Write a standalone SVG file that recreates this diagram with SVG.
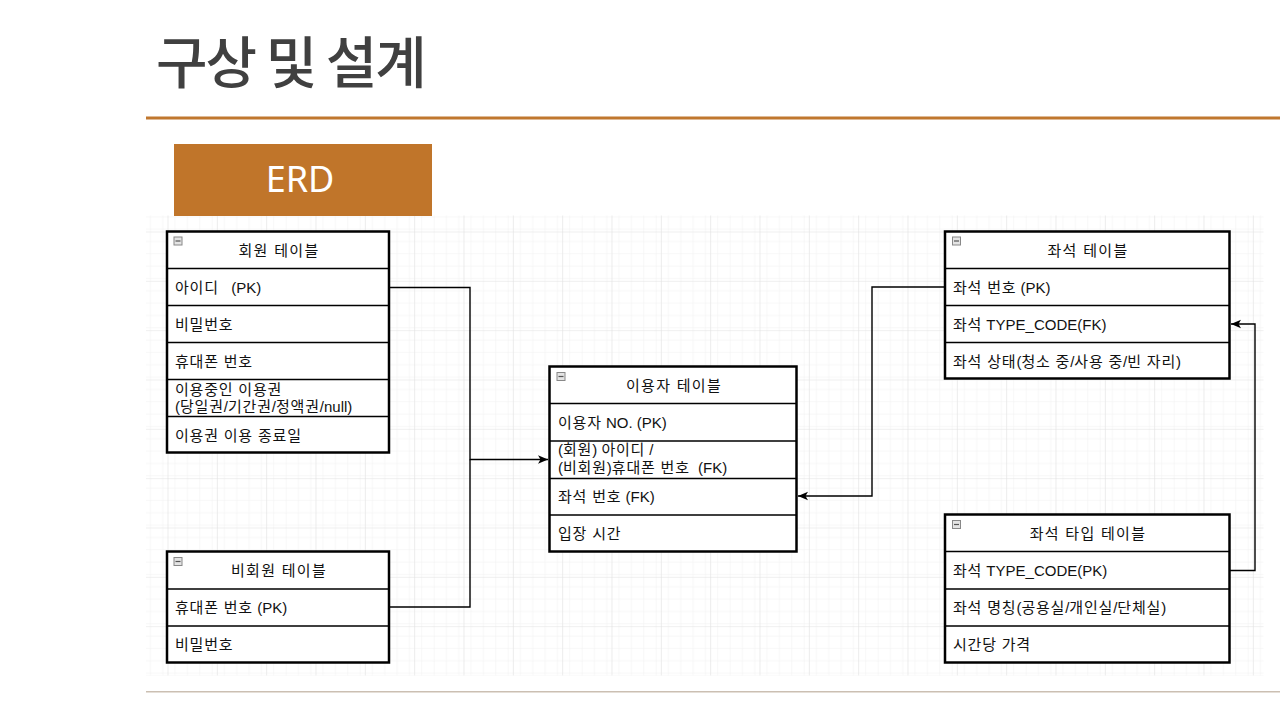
<svg xmlns="http://www.w3.org/2000/svg" width="1280" height="720" viewBox="0 0 1280 720">
<style>
.tbl{fill:#fff;stroke:#000;stroke-width:2.5}
.sep{stroke:#000;stroke-width:1.5}
.hd{font-family:"Liberation Sans","Noto Sans CJK KR",sans-serif;font-size:15px;fill:#111;text-anchor:middle;letter-spacing:1.3px}
.tx{font-family:"Liberation Sans","Noto Sans CJK KR",sans-serif;font-size:15px;fill:#111;white-space:pre}
.k{letter-spacing:0.8px}
.ic{fill:#e4e4e4;stroke:#888;stroke-width:1}
.icm{stroke:#555;stroke-width:1.2}
.cn{fill:none;stroke:#000;stroke-width:1.4}
</style>
<defs>
<pattern id="minor" x="167.5" y="231.5" width="12.333" height="12.333" patternUnits="userSpaceOnUse">
<path d="M0,0 V12.333 M0,0 H12.333" stroke="#efefef" stroke-width="1" fill="none"/>
</pattern>
<pattern id="major" x="167.5" y="231.5" width="49.333" height="49.333" patternUnits="userSpaceOnUse">
<rect width="49.333" height="49.333" fill="url(#minor)"/>
<path d="M0,0 V49.333 M0,0 H49.333" stroke="#e0e0e0" stroke-width="1.2" fill="none"/>
</pattern>
<marker id="arr" markerUnits="userSpaceOnUse" markerWidth="12" markerHeight="10" refX="10" refY="5" orient="auto">
<path d="M0,0.8 L10,5 L0,9.2 L2.5,5 z" fill="#000"/>
</marker>
</defs>
<rect width="1280" height="720" fill="#fff"/>
<text x="156" y="83" font-family="'Noto Sans CJK KR',sans-serif" font-size="56" font-weight="500" fill="#404040" letter-spacing="-2">구상 및 설계</text>
<rect x="146" y="116.5" width="1134" height="3" fill="#c0772e"/>
<rect x="146" y="215.5" width="1117.5" height="460" fill="url(#major)"/>
<rect x="174" y="144" width="258" height="72" fill="#c0752a"/>
<text x="300" y="192" font-family="'Noto Sans',sans-serif" font-size="36" fill="#fff" text-anchor="middle">ERD</text>
<rect x="146" y="691" width="1134" height="1.5" fill="#cbbfb2"/>

<g id="connectors">
<path class="cn" d="M389,287.5 H470 V459.5 H548" marker-end="url(#arr)"/>
<path class="cn" d="M389,607 H470 V459.5"/>
<path class="cn" d="M945,287 H872 V496 H798" marker-end="url(#arr)"/>
<path class="cn" d="M1230,570.5 H1255 V324 H1231" marker-end="url(#arr)"/>
</g>

<g id="member">
<rect class="tbl" x="167" y="231.5" width="222" height="221"/>
<path class="sep" d="M167,268.5 H389 M167,305.5 H389 M167,342.5 H389 M167,379.5 H389 M167,416.5 H389"/>
<rect class="ic" x="174" y="237" width="8" height="8"/><path class="icm" d="M175.5,241 H180.5"/>
<text class="hd" x="279" y="256">회원 테이블</text>
<text class="tx" x="175" y="292.5"><tspan class="k">아이디</tspan>   (PK)</text>
<text class="tx" x="175" y="329.5"><tspan class="k">비밀번호</tspan></text>
<text class="tx" x="175" y="366.5"><tspan class="k">휴대폰 번호</tspan></text>
<text class="tx" x="175" y="395"><tspan class="k">이용중인 이용권</tspan></text>
<text class="tx" x="175" y="412">(<tspan class="k">당일권</tspan>/<tspan class="k">기간권</tspan>/<tspan class="k">정액권</tspan>/null)</text>
<text class="tx" x="175" y="440.5"><tspan class="k">이용권 이용 종료일</tspan></text>
</g>

<g id="nonmember">
<rect class="tbl" x="167" y="551.5" width="222" height="111"/>
<path class="sep" d="M167,589 H389 M167,626 H389"/>
<rect class="ic" x="174" y="557.5" width="8" height="8"/><path class="icm" d="M175.5,561.5 H180.5"/>
<text class="hd" x="279" y="576">비회원 테이블</text>
<text class="tx" x="175" y="612.5"><tspan class="k">휴대폰 번호</tspan> (PK)</text>
<text class="tx" x="175" y="649.5"><tspan class="k">비밀번호</tspan></text>
</g>

<g id="user">
<rect class="tbl" x="549.5" y="366.5" width="247" height="185"/>
<path class="sep" d="M549.5,403.5 H796.5 M549.5,441 H796.5 M549.5,478.5 H796.5 M549.5,515 H796.5"/>
<rect class="ic" x="557" y="372.5" width="8" height="8"/><path class="icm" d="M558.5,376.5 H563.5"/>
<text class="hd" x="674" y="391">이용자 테이블</text>
<text class="tx" x="558" y="428"><tspan class="k">이용자</tspan> NO. (PK)</text>
<text class="tx" x="558" y="454.5">(<tspan class="k">회원</tspan>) <tspan class="k">아이디</tspan> /</text>
<text class="tx" x="558" y="473">(<tspan class="k">비회원</tspan>)<tspan class="k">휴대폰 번호</tspan>  (FK)</text>
<text class="tx" x="558" y="502"><tspan class="k">좌석 번호</tspan> (FK)</text>
<text class="tx" x="558" y="539"><tspan class="k">입장 시간</tspan></text>
</g>

<g id="seat">
<rect class="tbl" x="945" y="231.5" width="284.5" height="147"/>
<path class="sep" d="M945,268.5 H1229.5 M945,305.5 H1229.5 M945,342.5 H1229.5"/>
<rect class="ic" x="952.5" y="237" width="8" height="8"/><path class="icm" d="M954,241 H959"/>
<text class="hd" x="1088" y="256">좌석 테이블</text>
<text class="tx" x="953" y="292.5"><tspan class="k">좌석 번호</tspan> (PK)</text>
<text class="tx" x="953" y="329.5"><tspan class="k">좌석</tspan> TYPE_CODE(FK)</text>
<text class="tx" x="953" y="366.5"><tspan class="k">좌석 상태</tspan>(<tspan class="k">청소 중</tspan>/<tspan class="k">사용 중</tspan>/<tspan class="k">빈 자리</tspan>)</text>
</g>

<g id="seattype">
<rect class="tbl" x="945" y="514.5" width="284.5" height="148"/>
<path class="sep" d="M945,551.5 H1229.5 M945,589 H1229.5 M945,626 H1229.5"/>
<rect class="ic" x="952.5" y="520.5" width="8" height="8"/><path class="icm" d="M954,524.5 H959"/>
<text class="hd" x="1088" y="539">좌석 타입 테이블</text>
<text class="tx" x="953" y="576"><tspan class="k">좌석</tspan> TYPE_CODE(PK)</text>
<text class="tx" x="953" y="612.5"><tspan class="k">좌석 명칭</tspan>(<tspan class="k">공용실</tspan>/<tspan class="k">개인실</tspan>/<tspan class="k">단체실</tspan>)</text>
<text class="tx" x="953" y="649.5"><tspan class="k">시간당 가격</tspan></text>
</g>
</svg>
